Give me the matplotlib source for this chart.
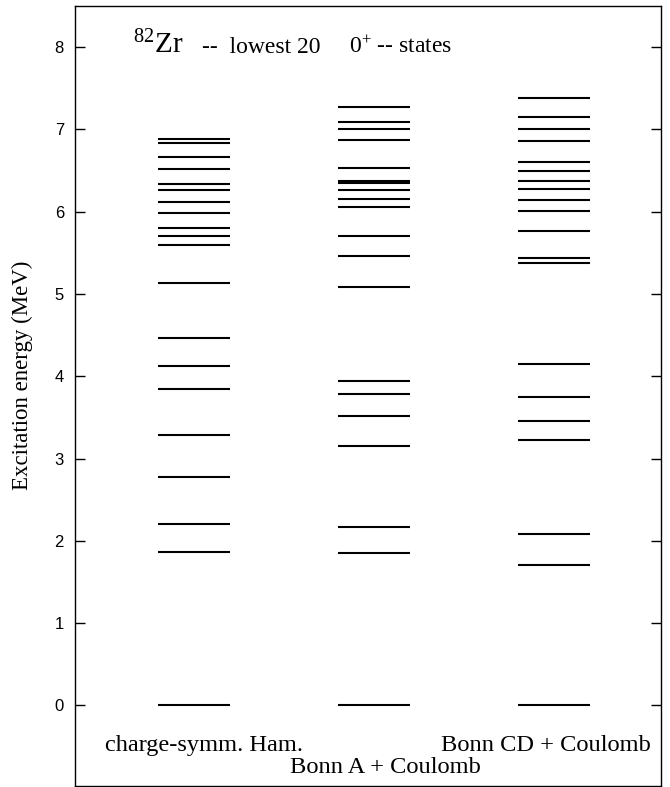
import matplotlib
matplotlib.use("Agg")
import matplotlib.pyplot as plt

plt.rcParams['mathtext.fontset'] = 'custom'
plt.rcParams['mathtext.rm'] = 'Liberation Serif'
plt.rcParams['mathtext.it'] = 'Liberation Serif:italic'

columns = ["charge-symm. Ham.", "Bonn A + Coulomb", "Bonn CD + Coulomb"]
levels_cs = [0.00, 1.86, 2.21, 2.78, 3.28, 3.85, 4.12, 4.47, 5.13, 5.59,
             5.70, 5.80, 5.99, 6.12, 6.26, 6.34, 6.52, 6.67, 6.83, 6.88]
levels_bonnA = [0.00, 1.85, 2.17, 3.15, 3.52, 3.78, 3.94, 5.09, 5.46, 5.71,
                6.06, 6.15, 6.26, 6.35, 6.37, 6.53, 6.87, 7.00, 7.09, 7.27]
levels_bonnCD = [0.00, 1.71, 2.08, 3.22, 3.46, 3.75, 4.15, 5.38, 5.44, 5.76,
                 6.01, 6.14, 6.27, 6.37, 6.49, 6.61, 6.86, 7.00, 7.15, 7.38]
all_levels = [levels_cs, levels_bonnA, levels_bonnCD]
yticks = [0, 1, 2, 3, 4, 5, 6, 7, 8]

fig = plt.figure(figsize=(6.70, 7.87), dpi=100)
ax = fig.add_axes([75/670, 1-786/787, 586/670, 780/787])

half = 0.2
for i, lev in enumerate(all_levels):
    xc = i + 1
    ax.hlines(lev, xc - half, xc + half, colors='black', linewidth=1.5)

ax.set_xlim(0.339, 3.594)
ax.set_ylim(-0.98, 8.5)
ax.set_xticks([])
ax.set_yticks(yticks)
ax.tick_params(axis='y', direction='in', length=7, width=1, right=True,
               labelsize=12, pad=8)
for lab in ax.get_yticklabels():
    lab.set_family('Liberation Sans')
for s in ax.spines.values():
    s.set_linewidth(1.0)

ax.set_ylabel("Excitation energy (MeV)", family='Liberation Serif', fontsize=16.5)
ax.yaxis.set_label_coords(-0.071, 0.526)

serif = 'Liberation Serif'
ax.text(1.056, -0.49, columns[0], ha='center', va='center', family=serif, fontsize=17.6)
ax.text(2.061, -0.75, columns[1], ha='center', va='center', family=serif, fontsize=17.6)
ax.text(2.956, -0.49, columns[2], ha='center', va='center', family=serif, fontsize=17.6)

ax.text(0.661, 7.93, r"$^{82}$Zr", ha='left', va='baseline', family=serif, fontsize=21)
ax.text(1.045, 7.93, "--  lowest 20", ha='left', va='baseline', family=serif, fontsize=17)
ax.text(1.861, 7.93, r"0$^{+}$ -- states", ha='left', va='baseline', family=serif, fontsize=17)

fig.savefig("out.png", dpi=100)
